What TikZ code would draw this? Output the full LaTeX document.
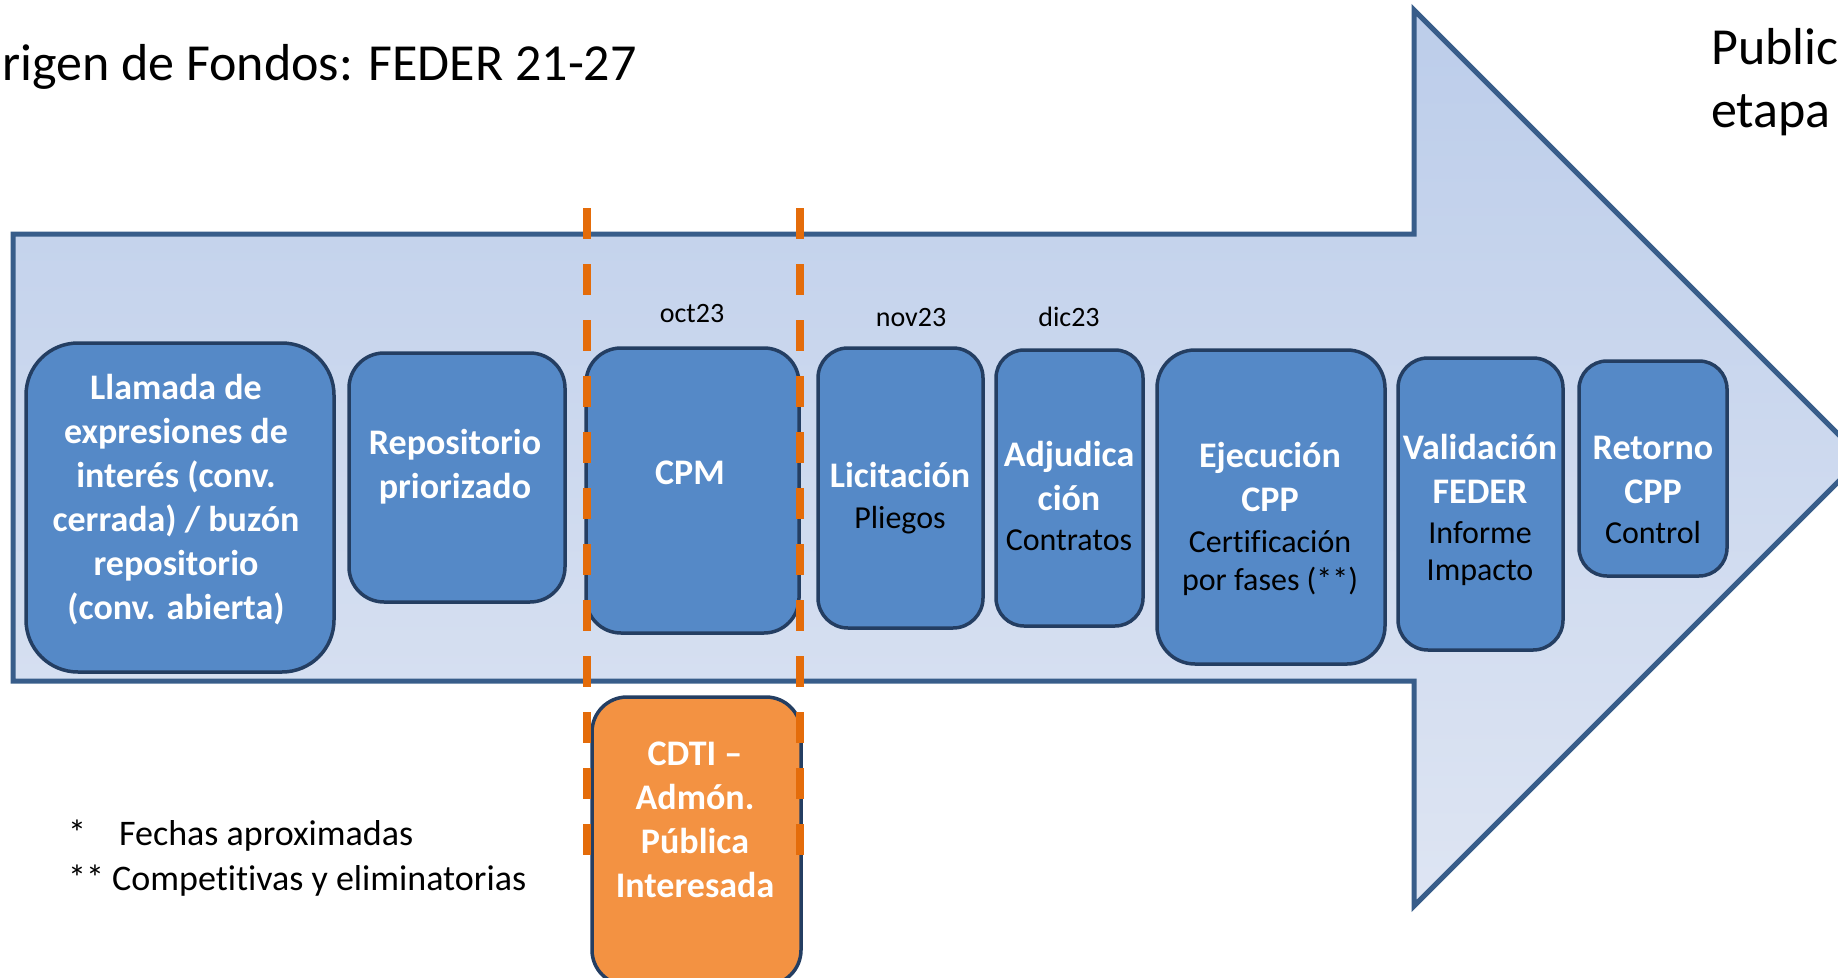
\documentclass[tikz,border=0pt]{standalone}
\usepackage{fontspec}
\setmainfont{Carlito}[Ligatures=NoCommon]
\usepackage{tikz}

\definecolor{borde}{RGB}{56,93,138}
\definecolor{flechasup}{RGB}{188,205,234}
\definecolor{flechainf}{RGB}{222,229,243}
\definecolor{caja}{RGB}{85,137,199}
\definecolor{cajaborde}{RGB}{36,62,98}
\definecolor{cajanaranja}{RGB}{243,146,66}
\definecolor{naranja}{RGB}{228,108,10}

\newcommand{\detalle}[1]{{\fontsize{32}{39}\selectfont\mdseries\color{black}#1}}

\tikzset{
  fase/.style={draw=cajaborde, line width=3.5pt, fill=caja, rounded corners=#1},
  fase/.default=35pt,
  rotulo/.style={text=white, align=center, inner sep=0pt, font=\fontsize{36}{44}\selectfont\bfseries},
  fecha/.style={anchor=base, inner sep=0pt, font=\fontsize{28}{34}\selectfont},
  corte/.style={draw=naranja, line width=8pt, dash pattern=on 31pt off 25pt}
}

\begin{document}
\begin{tikzpicture}[x=1pt,y=-1pt]
\useasboundingbox (0,0) rectangle (1838,977);
\clip (0,0) rectangle (1838,977);

\draw[borde, line width=5pt, top color=flechasup, bottom color=flechainf]
  (13,234) -- (1414,234) -- (1414,10) -- (1862,458) -- (1414,906) -- (1414,681) -- (13,681) -- cycle;

\node[fase=52pt, minimum width=308pt, minimum height=329pt] (llamada) at (180,507.5) {};
\node[fase, minimum width=216pt, minimum height=249pt] (repositorio) at (457,477.5) {};
\node[fase, minimum width=213pt, minimum height=285pt] (cpm) at (692.5,490.5) {};
\node[fase=30pt, minimum width=165pt, minimum height=280pt] (licitacion) at (900.5,488) {};
\node[fase=28pt, minimum width=147pt, minimum height=276pt] (adjudicacion) at (1069.5,488) {};
\node[fase=38pt, minimum width=228pt, minimum height=314pt] (ejecucion) at (1271,507) {};
\node[fase=30pt, minimum width=165pt, minimum height=292pt] (validacion) at (1480.5,504) {};
\node[fase=28pt, minimum width=148pt, minimum height=215pt] (retorno) at (1653,468.5) {};
\node[fase, fill=cajanaranja, minimum width=209pt, minimum height=288pt] (cdti) at (696.5,841) {};

\draw[corte] (586.5,208) -- (586.5,856);
\draw[corte] (800,208) -- (800,856);

\node[rotulo] (llamadatxt) at (176,499.5) {Llamada de\\expresiones de\\interés (conv.\\cerrada) / buzón\\repositorio\\(conv. abierta)};
\node[rotulo] (repositoriotxt) at (455,466.5) {Repositorio\\priorizado};
\node[rotulo] (cpmtxt) at (690,472.5) {CPM};
\node[rotulo] (licitaciontxt) at (900,498) {Licitación\\[-3pt]\detalle{Pliegos}};
\node[rotulo] (adjudicaciontxt) at (1069,496) {Adjudica\\ción\\[-4pt]\detalle{Contratos}};
\node[rotulo] (ejecuciontxt) at (1270,519) {Ejecución\\CPP\\[-3pt]\detalle{Certificación}\\[-6pt]\detalle{por fases (**)}};
\node[rotulo] (validaciontxt) at (1480,510) {Validación\\FEDER\\[-4pt]\detalle{Informe}\\[-7pt]\detalle{Impacto}};
\node[rotulo] (retornotxt) at (1653,490) {Retorno\\CPP\\[-4pt]\detalle{Control}};
\node[rotulo] (cdtitxt) at (695,820) {CDTI –\\Admón.\\Pública\\Interesada};

\node[fecha] (oct) at (692,322) {oct23};
\node[fecha] (nov) at (911,326) {nov23};
\node[fecha] (dic) at (1069,326) {dic23};

\node[anchor=base east, inner sep=0pt, font=\fontsize{52}{62}\selectfont] (origen) at (637,80) {Origen de Fondos: FEDER 21-27};
\node[anchor=base west, inner sep=0pt, font=\fontsize{52}{62}\selectfont] (public) at (1711,64) {Public};
\node[anchor=base west, inner sep=0pt, font=\fontsize{52}{62}\selectfont] (etapa) at (1711,127) {etapa};

\node[anchor=base west, inner sep=0pt, font=\fontsize{36}{45}\selectfont] (nota1) at (68,845) {*\hspace{33pt}Fechas aproximadas};
\node[anchor=base west, inner sep=0pt, font=\fontsize{36}{45}\selectfont] (nota2) at (68,890) {** Competitivas y eliminatorias};
\end{tikzpicture}
\end{document}
